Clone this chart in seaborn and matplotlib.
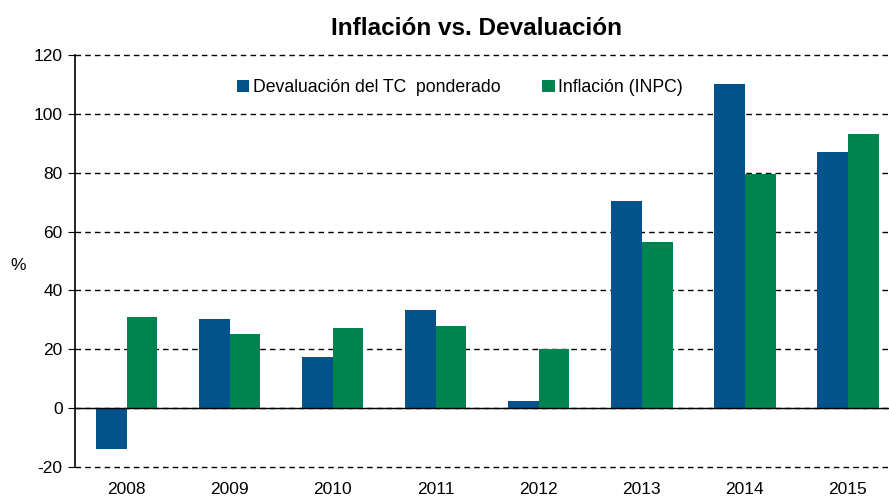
import pandas as pd
import matplotlib.pyplot as plt
import seaborn as sns

years = ['2008', '2009', '2010', '2011', '2012', '2013', '2014', '2015']
devaluacion = [-14.0, 30.3, 17.3, 33.3, 2.4, 70.5, 110.1, 87.0]
inflacion = [31.0, 25.2, 27.2, 27.9, 20.1, 56.4, 79.6, 93.1]
series = ['Devaluación del TC  ponderado', 'Inflación (INPC)']
colores = ['#02538B', '#00844F']

df = pd.DataFrame({
    'year': years * 2,
    'valor': devaluacion + inflacion,
    'serie': [series[0]] * len(years) + [series[1]] * len(years),
})

sns.set_style('white')
plt.rcParams['font.family'] = ['Liberation Sans', 'DejaVu Sans']
plt.rcParams['axes.unicode_minus'] = False
plt.rcParams['text.color'] = 'black'
plt.rcParams['xtick.color'] = 'black'
plt.rcParams['ytick.color'] = 'black'
plt.rcParams['axes.labelcolor'] = 'black'

fig = plt.figure(figsize=(8.89, 4.96), dpi=100)
ax = fig.add_axes([0.0844, 0.0585, 0.927, 0.8306])

sns.barplot(data=df, x='year', y='valor', hue='serie', palette=colores,
            width=0.6, saturation=1, ax=ax, edgecolor='none')

ax.set_ylim(-20, 120)
ax.set_xlim(-0.5, 7.5)
ax.set_yticks(range(-20, 121, 20))
ax.yaxis.grid(True, color='black', linestyle=(0, (4, 3)), linewidth=1)
for gl in ax.yaxis.get_gridlines():
    gl.set_clip_on(False)
ax.xaxis.grid(False)
ax.set_axisbelow(True)

# eje x sobre el cero, etiquetas abajo
for s in ['top', 'right']:
    ax.spines[s].set_visible(False)
ax.spines['left'].set_color('black')
ax.spines['left'].set_linewidth(1.2)
ax.spines['bottom'].set_position(('data', 0))
ax.spines['bottom'].set_color('black')
ax.spines['bottom'].set_linewidth(1)
ax.set_xticks([i + 0.5 for i in range(7)], minor=True)
ax.tick_params(axis='x', which='minor', direction='out', length=5, color='black', width=1)
ax.tick_params(axis='x', which='major', length=0, pad=53, labelsize=12.5)
ax.tick_params(axis='y', length=5, direction='out', color='black', left=True, labelsize=12.5, pad=4)

ax.set_xlabel('')
ax.set_ylabel('%', fontsize=12.5, rotation=0, va='center', ha='center')
ax.yaxis.set_label_coords(-0.069, 0.49)

fig.text(0.536, 0.943, 'Inflación vs. Devaluación', ha='center', va='center',
         fontsize=17.5, fontweight='bold')

ax.legend(loc='upper center', bbox_to_anchor=(0.467, 0.98), ncol=2, frameon=False,
          fontsize=12.7, handlelength=0.7, handleheight=0.7, handletextpad=0.2,
          columnspacing=2.4)

plt.savefig('out.png', dpi=100)
